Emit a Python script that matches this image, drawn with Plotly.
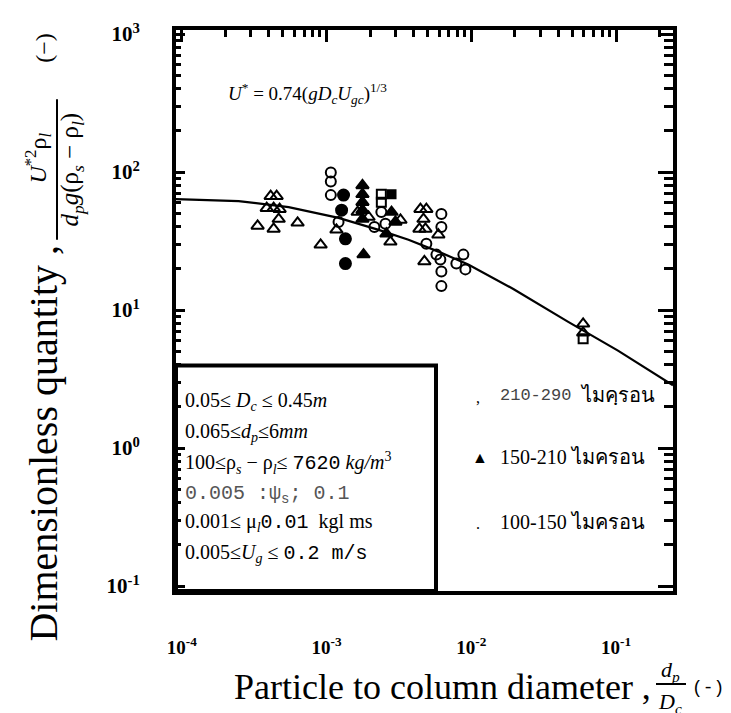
import plotly.graph_objects as go

# ---------------- data ----------------
curve_x = [9.1e-5, 2.47e-4, 5.47e-4, 1.21e-3, 2.29e-3, 3.68e-3, 5.92e-3, 9.52e-3,
           1.95e-2, 4.67e-2, 0.103, 0.195, 0.247]
curve_y = [63.6, 61.5, 55.7, 46.5, 38.1, 32.3, 26.5, 21.4, 14.2, 8.2, 5.08, 3.31, 2.85]

tri_open_x = [4.11e-4, 4.52e-4, 3.86e-4, 4.31e-4, 4.74e-4, 4.67e-4, 6.31e-4, 3.34e-4, 4.31e-4,
              9.1e-4, 1.17e-3, 1.64e-3, 1.95e-3, 2.76e-3, 3.24e-3, 4.45e-3, 4.89e-3, 4.67e-3,
              4.38e-3, 4.82e-3, 5.92e-3, 4.74e-3, 5.92e-2, 5.92e-2]
tri_open_y = [66.8, 66.8, 54.7, 54.7, 53.8, 45.6, 42.8, 40.7, 38.7,
              29.7, 38.1, 51.3, 47.2, 31.2, 44.9, 53.8, 53.8, 45.6,
              38.7, 38.7, 35.1, 22.5, 7.94, 6.84]

circ_open_x = [1.07e-3, 1.07e-3, 1.07e-3, 1.21e-3, 2.39e-3, 2.55e-3, 6.21e-3, 6.21e-3, 4.89e-3,
               5.74e-3, 6.11e-3, 6.21e-3, 6.21e-3, 8.81e-3, 7.88e-3, 9.10e-3, 2.14e-3]
circ_open_y = [99, 85.5, 68, 43.5, 51.3, 42.1, 49.6, 40.0, 30.2,
               25.2, 23.2, 19.0, 14.9, 25.2, 21.7, 19.7, 40.0]

sq_open_x = [2.39e-3, 2.39e-3, 5.92e-2]
sq_open_y = [69, 60.5, 6.19]

sq_fill_x = [2.81e-3]
sq_fill_y = [69]

tri_fill_x = [1.77e-3, 1.77e-3, 1.77e-3, 1.77e-3, 1.77e-3, 1.80e-3, 2.81e-3, 2.99e-3, 2.59e-3]
tri_fill_y = [80, 69, 60.5, 52.9, 45.6, 25.2, 51.3, 43.5, 35.7]

circ_fill_x = [1.31e-3, 1.27e-3, 1.35e-3, 1.35e-3]
circ_fill_y = [68, 52.9, 32.8, 21.7]

x_tickvals = [1e-4, 1e-3, 1e-2, 1e-1]
x_ticktext = ["<b>10<sup>-4</sup></b>", "<b>10<sup>-3</sup></b>", "<b>10<sup>-2</sup></b>", "<b>10<sup>-1</sup></b>"]
y_tickvals = [1e-1, 1, 10, 100, 1000]
y_ticktext = ["<b>10<sup>-1</sup></b>", "<b>10<sup>0</sup></b>", "<b>10<sup>1</sup></b>",
              "<b>10<sup>2</sup></b>", "<b>10<sup>3</sup></b>"]
x_minorvals = [2e-4, 3e-4, 4e-4, 5e-4, 6e-4, 7e-4, 8e-4, 9e-4,
               2e-3, 3e-3, 4e-3, 5e-3, 6e-3, 7e-3, 8e-3, 9e-3,
               2e-2, 3e-2, 4e-2, 5e-2, 6e-2, 7e-2, 8e-2, 9e-2, 2e-1]
y_minorvals = [2e-1, 3e-1, 4e-1, 5e-1, 6e-1, 7e-1, 8e-1, 9e-1,
               2, 3, 4, 5, 6, 7, 8, 9,
               20, 30, 40, 50, 60, 70, 80, 90,
               200, 300, 400, 500, 600, 700, 800, 900]

legend_ranges = ["210-290", "150-210", "100-150"]
legend_unit = ["ไมคฺรอน", "ไมครอน", "ไมครอน"]

# ---------------- layout helpers ----------------
W, H = 731, 713
L, R, T, B = 168, 665, 16, 583


def PX(x):
    return (x - L) / (R - L)


def PY(y):
    return (B - y) / (B - T)


SERIF = "Liberation Serif"
MONO = "Liberation Mono"

fig = go.Figure()

fig.add_trace(go.Scatter(x=curve_x, y=curve_y, mode="lines",
                         line=dict(color="black", width=2.2), showlegend=False, hoverinfo="skip"))


def pts(xs, ys, symbol, size):
    fig.add_trace(go.Scatter(x=xs, y=ys, mode="markers", showlegend=False,
                             marker=dict(symbol=symbol, size=size, color="black",
                                         line=dict(color="black", width=2))))


pts(tri_open_x, tri_open_y, "triangle-up-open", 11)
pts(circ_open_x, circ_open_y, "circle-open", 10)
pts(sq_open_x, sq_open_y, "square-open", 9)
pts(sq_fill_x, sq_fill_y, "square", 8)
pts(tri_fill_x, tri_fill_y, "triangle-up", 11)
pts(circ_fill_x, circ_fill_y, "circle", 11)

# invisible trace to activate overlay axes
fig.add_trace(go.Scatter(x=[curve_x[3]], y=[curve_y[3]], xaxis="x2", yaxis="y2", mode="markers",
                         marker=dict(size=1, color="rgba(0,0,0,0)"), showlegend=False, hoverinfo="skip"))

xr = [-4.04, -0.607]
yr = [-1.036, 3.029]

fig.update_layout(
    width=W, height=H,
    margin=dict(l=L, r=W - R, t=T, b=H - B),
    paper_bgcolor="white", plot_bgcolor="white",
    showlegend=False,
    xaxis=dict(type="log", range=xr, showgrid=False, zeroline=False,
               showline=True, linewidth=4, linecolor="black", mirror=True,
               ticks="", tickmode="array", tickvals=x_tickvals, ticktext=x_ticktext,
               tickfont=dict(family=SERIF, size=19, color="black"), ticklabelstandoff=36),
    yaxis=dict(type="log", range=yr, showgrid=False, zeroline=False,
               showline=True, linewidth=4, linecolor="black", mirror=True,
               ticks="inside", ticklen=9, tickwidth=3, tickcolor="black", layer="above traces",
               tickmode="array", tickvals=y_tickvals, ticktext=y_ticktext,
               minor=dict(ticks="inside", ticklen=5, tickwidth=3, tickcolor="black",
                          tickmode="array", tickvals=y_minorvals, showgrid=False),
               tickfont=dict(family=SERIF, size=21, color="black"), ticklabelstandoff=28),
    xaxis2=dict(type="log", range=xr, overlaying="x", side="top", anchor="y", showgrid=False,
                zeroline=False, showline=False, ticks="inside", ticklen=12, tickwidth=3,
                tickcolor="black", layer="above traces",
                tickmode="array", tickvals=x_tickvals, showticklabels=False,
                minor=dict(ticks="inside", ticklen=7, tickwidth=3, tickcolor="black",
                           tickmode="array", tickvals=x_minorvals, showgrid=False)),
    yaxis2=dict(type="log", range=yr, overlaying="y", side="right", anchor="x", showgrid=False,
                zeroline=False, showline=False, ticks="inside", ticklen=15, tickwidth=3,
                tickcolor="black", layer="above traces",
                tickmode="array", tickvals=y_tickvals, showticklabels=False,
                minor=dict(ticks="inside", ticklen=9, tickwidth=3, tickcolor="black",
                           tickmode="array", tickvals=y_minorvals, showgrid=False)),
)

ann = []
shapes = []


def text(x, y, s, size, xa="left", ya="middle", angle=0, family=SERIF, color="black"):
    ann.append(dict(x=PX(x), y=PY(y), xref="paper", yref="paper", text=s, showarrow=False,
                    xanchor=xa, yanchor=ya, textangle=angle,
                    font=dict(family=family, size=size, color=color)))


def line(x0, y0, x1, y1, w=2):
    shapes.append(dict(type="line", xref="paper", yref="paper", x0=PX(x0), y0=PY(y0),
                       x1=PX(x1), y1=PY(y1), line=dict(color="black", width=w)))


# equation
text(218, 80, "<i>U</i><sup>*</sup> = 0.74(<i>gD<sub>c</sub>U<sub>gc</sub></i>)<sup>1/3</sup>", 19)

# parameter box
shapes.append(dict(type="rect", xref="paper", yref="paper", x0=PX(168), y0=PY(583), x1=PX(428), y1=PY(355),
                   line=dict(color="black", width=4)))
box_lines = [
    (391, "0.05≤ <i>D<sub>c</sub></i> ≤ 0.45<i>m</i>"),
    (423, "0.065≤<i>d<sub>p</sub></i>≤6<i>mm</i>"),
    (454, "100≤ρ<sub><i>s</i></sub> − ρ<sub><i>l</i></sub>≤ <span style='font-family:Liberation Mono'>7620</span> <i>kg/m</i><sup>3</sup>"),
    (485, "<span style='font-family:Liberation Mono;color:#555555'>0.005 :ψ<sub>s</sub>; 0.1</span>"),
    (514, "0.001≤ μ<sub><i>l</i></sub><span style='font-family:Liberation Mono'>0.01</span>  kgl ms"),
    (545, "0.005≤<i>U<sub>g</sub></i> ≤ <span style='font-family:Liberation Mono'>0.2 m/s</span>"),
]
for yy, s in box_lines:
    text(175, yy, s, 20)

# legend-like labels
text(466, 387, ",", 16)
text(490, 385, legend_ranges[0], 17, family=MONO, color="#444444")
text(570, 385, legend_unit[0], 20)
text(472, 448, "▲", 16, xa="center")
text(490, 448, legend_ranges[1] + " " + legend_unit[1], 20)
text(466, 515, ".", 16)
text(490, 513, legend_ranges[2] + " " + legend_unit[2], 20)

# y title
text(36, 434, "Dimensionless quantity ,", 40, xa="center", angle=-90)
text(30, 146, "<i>U</i><sup>*2</sup>ρ<sub><i>l</i></sub>", 24, xa="center", angle=-90)
line(49, 86, 49, 228, 2)
text(64, 157, "<i>d<sub>p</sub>g</i>(ρ<sub><i>s</i></sub> − ρ<sub><i>l</i></sub>)", 25, xa="center", angle=-90)
text(36, 34, "(−)", 24, xa="center", angle=-90)

# x title
text(224, 680, "Particle to column diameter ,", 36)
text(662, 664, "<i>d<sub>p</sub></i>", 22, xa="center")
line(648, 677, 678, 677, 2)
text(662, 696, "<i>D<sub>c</sub></i>", 22, xa="center")
text(682, 681, "(-)", 18, family=MONO)

fig.update_layout(annotations=ann, shapes=shapes)
fig.write_html("out.html")
